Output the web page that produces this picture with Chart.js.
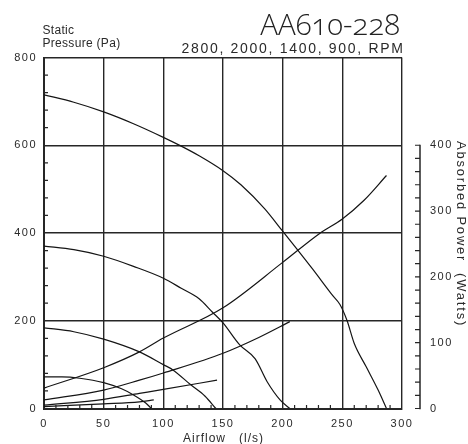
<!DOCTYPE html>
<html><head><meta charset="utf-8">
<script src="https://cdn.jsdelivr.net/npm/chart.js@4.4.0/dist/chart.umd.min.js"></script>
<style>
html,body{margin:0;padding:0;background:#fff;}
#wrap{position:relative;width:468px;height:444px;}
#title{position:absolute;right:68px;top:9.5px;font-family:"Open Sans";font-weight:300;font-size:29.5px;line-height:28px;color:#222;font-variant-numeric:oldstyle-nums;white-space:nowrap;}
</style></head>
<body><div id="wrap"><canvas id="c" width="468" height="444"></canvas><div id="title">AA610-228</div></div>
<script>
// Static pressure curves (Pa) vs airflow (l/s)
const flowP2800 = [0,25,50,75,100,115,130,150,165,185,200,212,225,242,248,254,260,270,280,287];
const pres2800  = [715,698,676,649,618,598,576,542,510,455,404,363,318,257,237,200,148,95,42,0];
const flowP2000 = [0,25,50,75,100,115,130,141,150,164,177,187,198,206];
const pres2000  = [370,362,347,324,297,274,250,220,195,145,113,61,19,0];
const flowP1400 = [0,25,50,80,100,108,123,135,144];
const pres1400  = [184,175,158,129,100,88,54,28,0];
const flowP900  = [0,15,30,50,65,75,85,90];
const pres900   = [72,72,69,59,45,31,13,0];
// Absorbed power curves (W) vs airflow (l/s)
const flowW2800 = [0,50,80,100,150,200,231,250,268,287];
const power2800 = [31,62,86,107,153,222,266,288,316,354];
const flowW2000 = [0,50,80,100,150,180,206];
const power2000 = [13,28,43,54,84,108,132];
const flowW1400 = [0,50,80,100,145];
const power1400 = [5,14,23,29,43];
const flowW900  = [0,50,80,92];
const power900  = [3,7,10,13];
// Axis ticks
const xTickValues = [0,50,100,150,200,250,300];
const yTickValues = [0,200,400,600,800];
const y1TickValues = [0,100,200,300,400];

const titleText = 'AA610-228';
const subtitleText = '2800, 2000, 1400, 900, RPM';
const yTitle = ['Static','Pressure (Pa)'];
const y1Title = 'Absorbed Power  (Watts)';
const xTitle = 'Airflow   (l/s)';

const toXY = (xs, ys) => xs.map((v,i)=>({x:v, y:ys[i]}));
const LINE = '#151515';
const TXT = '#2a2a2a';
const GRID = '#262626';
const tickFont = {family:'"Liberation Sans", Arial, sans-serif', size:11};

function ds(xs, ys, axis){
  return {data: toXY(xs, ys), yAxisID: axis, borderColor: LINE, borderWidth: 1.2,
    pointRadius: 0, fill: false, cubicInterpolationMode: 'monotone'};
}

const decor = {
  id: 'decor',
  beforeLayout(chart){ chart.ctx.letterSpacing = '1.5px'; },
  beforeDraw(chart){ chart.ctx.letterSpacing = '1.5px'; },
  afterDraw(chart){
    const {ctx, chartArea: a, scales: {x, y, y1}} = chart;
    ctx.save();
    ctx.strokeStyle = GRID; ctx.lineWidth = 1.2;
    ctx.beginPath();
    for (let v = 10; v < 300; v += 10) {
      if (v % 50) { const px = x.getPixelForValue(v); ctx.moveTo(px, a.bottom); ctx.lineTo(px, a.bottom - 3.5); }
    }
    for (let v = 40; v < 800; v += 40) {
      if (v % 200) { const py = y.getPixelForValue(v); ctx.moveTo(a.left, py); ctx.lineTo(a.left + 4, py); }
    }
    const ax = a.right + 18;
    for (let v = 0; v <= 400; v += 20) {
      const py = y1.getPixelForValue(v); ctx.moveTo(ax - 5, py); ctx.lineTo(ax, py);
    }
    ctx.stroke();
    ctx.beginPath(); ctx.lineWidth = 1.5;
    ctx.moveTo(ax, y1.getPixelForValue(0) + 0.75); ctx.lineTo(ax, y1.getPixelForValue(400) - 0.6);
    ctx.stroke();

    ctx.fillStyle = TXT;
    ctx.textBaseline = 'alphabetic';
    // subtitle
    ctx.letterSpacing = '1.7px';
    ctx.font = '14px "Liberation Sans", Arial, sans-serif';
    ctx.textAlign = 'right';
    ctx.fillText(subtitleText, a.right + 2.7, 53);
    // y title
    ctx.letterSpacing = '0.3px';
    ctx.font = '12px "Liberation Sans", Arial, sans-serif';
    ctx.textAlign = 'left';
    ctx.fillText(yTitle[0], 42.5, 33.5);
    ctx.fillText(yTitle[1], 42.5, 47);
    // x title
    ctx.letterSpacing = '1px';
    ctx.textAlign = 'center';
    ctx.fillText(xTitle, (a.left + a.right) / 2 + 0.5, 442);
    // y1 title rotated
    ctx.save();
    ctx.letterSpacing = '1.8px';
    ctx.font = '13px "Liberation Sans", Arial, sans-serif';
    ctx.translate(457, (a.top + a.bottom) / 2 + 1);
    ctx.rotate(Math.PI / 2);
    ctx.textAlign = 'center';
    ctx.fillText(y1Title, 0, 0);
    ctx.restore();
    ctx.restore();
  }
};

new Chart(document.getElementById('c'), {
  type: 'line',
  data: {
    datasets: [
      ds(flowP2800, pres2800, 'y'),
      ds(flowP2000, pres2000, 'y'),
      ds(flowP1400, pres1400, 'y'),
      ds(flowP900, pres900, 'y'),
      ds(flowW2800, power2800, 'y1'),
      ds(flowW2000, power2000, 'y1'),
      ds(flowW1400, power1400, 'y1'),
      ds(flowW900, power900, 'y1')
    ]
  },
  options: {
    responsive: false,
    animation: false,
    devicePixelRatio: 1,
    layout: {padding: {top: 57.5, left: 0, right: 0, bottom: 0}},
    plugins: {legend: {display: false}, tooltip: {enabled: false}, title: {display: false}},
    scales: {
      x: {
        type: 'linear', min: 0, max: 300,
        afterBuildTicks: s => { s.ticks = xTickValues.map(v => ({value: v})); },
        ticks: {padding: 9, font: tickFont, color: TXT, maxRotation: 0},
        grid: {color: GRID, lineWidth: 1.4, drawTicks: false},
        border: {color: GRID, width: 2},
        afterFit: s => { s.height = 35.5; }
      },
      y: {
        min: 0, max: 800,
        afterBuildTicks: s => { s.ticks = yTickValues.map(v => ({value: v})); },
        ticks: {padding: 7, font: tickFont, color: TXT},
        grid: {color: GRID, lineWidth: 1.4, drawTicks: false},
        border: {color: GRID, width: 2},
        afterFit: s => { s.width = 44; }
      },
      y1: {
        position: 'right', min: 0, max: 1600 / 3,
        afterBuildTicks: s => { s.ticks = y1TickValues.map(v => ({value: v})); },
        ticks: {padding: 28, font: tickFont, color: TXT},
        grid: {display: false, drawTicks: false},
        border: {display: false},
        afterFit: s => { s.width = 66; }
      }
    }
  },
  plugins: [decor]
});
</script>
</body></html>
